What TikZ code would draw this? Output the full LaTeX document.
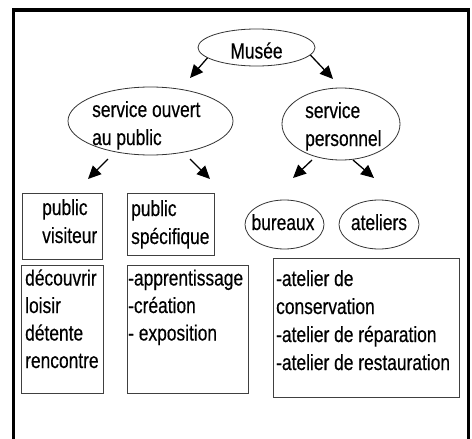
\documentclass[tikz,border=0pt]{standalone}
\usepackage{fontspec}
\setmainfont{Liberation Sans}[FakeStretch=0.79,FakeBold=0.4]
\usetikzlibrary{shapes.geometric,arrows.meta}
\newcommand\lbfont{\fontsize{22}{28}\selectfont}
\begin{document}
\begin{tikzpicture}[x=1pt,y=-1pt,
  lbl/.style={anchor=base west, inner sep=0pt, font=\lbfont},
  clbl/.style={anchor=base, inner sep=0pt, font=\lbfont},
  oval/.style={draw=black!80, line width=0.8pt, ellipse, inner sep=0pt},
  boxr/.style={draw=black!75, line width=1pt, rectangle, inner sep=0pt},
  arr/.style={line width=1.3pt, -{Triangle[length=13pt,width=12pt]}},
  frame/.style={line width=3.2pt, line join=miter}]
\useasboundingbox (0,0) rectangle (472,439);
% outer frame (open at the bottom)
\draw[frame] (13.3,439) -- (13.3,10) -- (468.3,10) -- (468.3,439);

% ellipses
\node[oval, minimum width=117pt, minimum height=37pt] (musee) at (256.5,47.5) {};
\node[oval, minimum width=165pt, minimum height=68pt] (svc1) at (150.5,121) {};
\node[oval, minimum width=118pt, minimum height=72pt] (svc2) at (341,124) {};
\node[oval, minimum width=79pt, minimum height=49pt] (bur) at (284.5,224.5) {};
\node[oval, minimum width=80pt, minimum height=49pt] (ate) at (379,224.5) {};

% boxes
\node[boxr, minimum width=80pt, minimum height=66pt] (pv) at (62,226) {};
\node[boxr, minimum width=87pt, minimum height=62pt] (ps) at (170.5,224) {};
\node[boxr, minimum width=82pt, minimum height=128pt] (b1) at (62,329) {};
\node[boxr, minimum width=121pt, minimum height=128pt] (b2) at (187.5,329) {};
\node[boxr, minimum width=186pt, minimum height=139pt] (b3) at (366,327.5) {};

% texts
\node[clbl] (tmusee) at (256.5,58.5) {Musée};
\node[lbl] (t11) at (92,117) {service ouvert};
\node[lbl] (t12) at (92,145) {au public};
\node[lbl] (t21) at (305,118) {service};
\node[lbl] (t22) at (305,146) {personnel};
\node[clbl] (tbur) at (283,230) {bureaux};
\node[clbl] (tate) at (379,230) {ateliers};
\node[lbl] (tpv1) at (42,215) {public};
\node[lbl] (tpv2) at (42,243) {visiteur};
\node[lbl] (tps1) at (131,216) {public};
\node[lbl] (tps2) at (131,244) {spécifique};

\node[lbl] (tb11) at (25,285.5) {découvrir};
\node[lbl] (tb12) at (25,313) {loisir};
\node[lbl] (tb13) at (25,340.5) {détente};
\node[lbl] (tb14) at (25,368) {rencontre};

\node[lbl] (tb21) at (128,285.5) {-apprentissage};
\node[lbl] (tb22) at (128,313) {-création};
\node[lbl] (tb23) at (128,340.5) {- exposition};

\node[lbl] (tb31) at (276,286) {-atelier de};
\node[lbl] (tb32) at (276,314) {conservation};
\node[lbl] (tb33) at (276,342) {-atelier de réparation};
\node[lbl] (tb34) at (276,370) {-atelier de restauration};

% arrows
\coordinate (e1) at (190,78);
\coordinate (e2) at (333,79);
\coordinate (s3) at (108,159);
\coordinate (e3) at (88,179);
\coordinate (s4) at (190,159);
\coordinate (e4) at (210,179);
\coordinate (s5) at (312,160);
\coordinate (e5) at (293,178);
\coordinate (s6) at (353,160);
\coordinate (e6) at (374,178);
\draw[arr] (musee.192.7) -- (e1);
\draw[arr] (musee.-8) -- (e2);
\draw[arr] (s3) -- (e3);
\draw[arr] (s4) -- (e4);
\draw[arr] (s5) -- (e5);
\draw[arr] (s6) -- (e6);
\end{tikzpicture}
\end{document}
